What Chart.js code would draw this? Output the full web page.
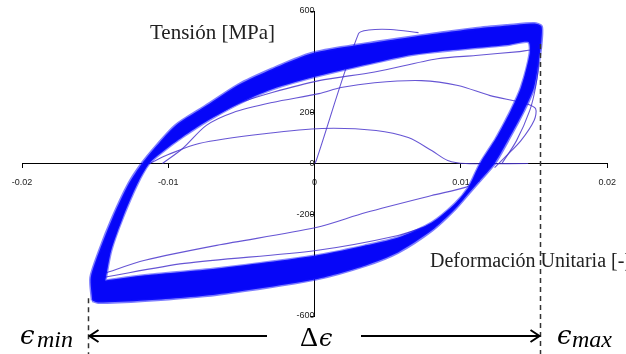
<!DOCTYPE html>
<html>
<head>
<meta charset="utf-8">
<script src="https://cdn.jsdelivr.net/npm/chart.js@4.4.1/dist/chart.umd.min.js"></script>
<style>
  html, body { margin: 0; padding: 0; background: #ffffff; }
  #wrap { width: 626px; height: 354px; position: relative; }
</style>
</head>
<body>
<div id="wrap"><canvas id="c" width="626" height="354"></canvas></div>
<script>
// ---- Data (strain [-], stress [MPa]) ----
// Outer edge of the dense band of stabilised cycles
const outerStrain = [-0.0152,-0.0153,-0.0147,-0.0138,-0.0127,-0.0118,-0.0108,-0.0095,-0.0074,-0.0052,-0.0029,-0.0004,0.0018,0.0064,0.0110,0.0132,0.0150,0.0155,0.0155,0.0154,0.0150,0.0143,0.0133,0.0123,0.0113,0.0107,0.0095,0.0080,0.0057,0.0035,0.0001,-0.0067,-0.0116,-0.0148,-0.0152];
const outerStress = [-539,-448,-342,-212,-79,0,70,150,228,310,372,430,456,496,531,543,551,540,484,433,299,208,100,0,-67,-106,-185,-264,-350,-401,-455,-515,-539,-547,-539];
// Inner edge of the dense band
const innerStrain = [-0.0143,-0.0139,-0.0131,-0.0121,-0.0113,-0.0103,-0.0090,-0.0074,-0.0052,-0.0029,0.0003,0.0064,0.0084,0.0132,0.0146,0.0147,0.0141,0.0134,0.0124,0.0113,0.0105,0.0096,0.0080,0.0057,0.0035,0.0001,-0.0067,-0.0116,-0.0143];
const innerStress = [-460,-342,-212,-79,0,50,105,165,235,292,345,425,440,466,478,433,299,208,100,0,-94,-157,-232,-291,-322,-362,-413,-440,-460];
// First cycles (thin traces)
const initStrain = [0.0000,0.0001,0.0030,0.0037,0.0052,0.0071];
const initStress = [0,10,511,525,527,515];
const lowStrain = [-0.0113,-0.0100,-0.0079,-0.0033,0.0005,0.0042,0.0064,0.0080,0.0091,0.0103,0.0146];
const lowStress = [0,35,79,118,138,130,102,51,12,0,0];
const midStrain = [-0.0104,-0.0090,-0.0074,-0.0056,-0.0029,0.0003,0.0018,0.0041,0.0073,0.0098,0.0120,0.0144,0.0151,0.0150,0.0141,0.0130,0.0123];
const midStress = [0,60,150,200,240,275,299,318,326,307,267,236,216,169,90,24,-16];
const highStrain = [-0.0095,-0.0074,-0.0052,-0.0029,0.0003,0.0041,0.0084,0.0110,0.0140,0.0150,0.0153,0.0151,0.0147,0.0138,0.0128];
const highStress = [100,170,236,279,326,360,412,425,440,445,400,300,208,90,0];
const comp1Strain = [-0.0144,-0.0116,-0.0067,0.0001,0.0035,0.0080,0.0103,0.0113];
const comp1Stress = [-433,-381,-322,-252,-193,-126,-94,-67];
const comp2Strain = [-0.0144,-0.0089,0.0001,0.0057,0.0080];
const comp2Stress = [-448,-393,-342,-283,-240];
// Axes
const xTickValues = [-0.02,-0.01,0,0.01,0.02];
const xTickLabels = ['-0.02','-0.01','0','0.01','0.02'];
const yTickValues = [-600,-400,-200,0,200,400,600];
const yTickLabels = ['-600','-400','-200','0','200','400','600'];
const strainMin = -0.0155, strainMax = 0.0154;

function pts(xs, ys){ return xs.map((x,i)=>({x:x, y:ys[i]})); }

const bandColor = 'rgb(6,6,248)';
const thinColor = 'rgba(75,55,205,0.85)';

function thin(xs, ys){
  return { data: pts(xs, ys), showLine: true, borderColor: thinColor, borderWidth: 1.1,
           pointRadius: 0, tension: 0.3, fill: false };
}

const datasets = [
  { data: pts(outerStrain, outerStress), showLine: true, borderColor: 'rgba(20,20,255,0.55)', borderWidth: 3, pointRadius: 0, tension: 0.25, fill: false },
  { data: pts(innerStrain, innerStress), showLine: true, borderColor: 'rgba(20,20,255,0.5)', borderWidth: 2.5, pointRadius: 0, tension: 0.25, fill: false },
  thin(initStrain, initStress),
  thin(lowStrain, lowStress),
  thin(midStrain, midStress),
  thin(highStrain, highStress),
  thin(comp1Strain, comp1Stress),
  thin(comp2Strain, comp2Stress)
];

const bandFill = {
  id: 'bandFill',
  beforeDatasetDraw(chart, args) {
    if (args.index !== 1) return;
    const ctx = chart.ctx;
    const a = chart.getDatasetMeta(0).dataset;
    const d = chart.getDatasetMeta(1).dataset;
    ctx.save();
    ctx.beginPath();
    [a, d].forEach(el => {
      if (typeof el.updateControlPoints === 'function') el.updateControlPoints(chart.chartArea, 'x');
      if (typeof el.path === 'function') {
        el.path(ctx);
      } else {
        el.points.forEach((p, i) => i ? ctx.lineTo(p.x, p.y) : ctx.moveTo(p.x, p.y));
      }
      ctx.closePath();
    });
    ctx.fillStyle = bandColor;
    ctx.fill('evenodd');
    ctx.restore();
  }
};

const annotations = {
  id: 'annotations',
  afterDraw(chart) {
    const ctx = chart.ctx;
    const xs = chart.scales.x, ys = chart.scales.y;
    const xMinPx = Math.round(xs.getPixelForValue(strainMin)) + 0.5;
    const xMaxPx = Math.round(xs.getPixelForValue(strainMax)) + 0.5;
    ctx.save();
    // dashed limits
    ctx.strokeStyle = '#333';
    ctx.lineWidth = 1.5;
    ctx.setLineDash([5, 4]);
    ctx.beginPath();
    ctx.moveTo(xMaxPx, ys.getPixelForValue(470)); ctx.lineTo(xMaxPx, 354);
    ctx.moveTo(xMinPx, ys.getPixelForValue(-530)); ctx.lineTo(xMinPx, 354);
    ctx.stroke();
    ctx.setLineDash([]);
    // arrows
    const ay = 336;
    ctx.strokeStyle = '#000';
    ctx.lineWidth = 2;
    ctx.beginPath();
    ctx.moveTo(267, ay); ctx.lineTo(xMinPx + 1, ay);
    ctx.moveTo(xMinPx + 10, ay - 6); ctx.lineTo(xMinPx + 1, ay); ctx.lineTo(xMinPx + 10, ay + 6);
    ctx.moveTo(361, ay); ctx.lineTo(xMaxPx - 1, ay);
    ctx.moveTo(xMaxPx - 10, ay - 6); ctx.lineTo(xMaxPx - 1, ay); ctx.lineTo(xMaxPx - 10, ay + 6);
    ctx.stroke();
    // texts
    ctx.fillStyle = '#222';
    ctx.textBaseline = 'alphabetic';
    ctx.textAlign = 'left';
    ctx.font = '21px "Liberation Serif"';
    ctx.fillText('Tensión [MPa]', 150, 39);
    ctx.font = '20px "Liberation Serif"';
    ctx.fillText('Deformación Unitaria [-]', 430, 267);
    ctx.fillStyle = '#000';
    ctx.font = 'italic 26px "DejaVu Serif"';
    ctx.fillText('\u03F5', 20, 344);
    ctx.fillText('\u03F5', 557, 344);
    ctx.font = 'italic 24px "Liberation Serif"';
    ctx.fillText('min', 37, 347);
    ctx.fillText('max', 572, 347);
    ctx.font = '28px "Liberation Serif"';
    ctx.fillText('\u0394', 300, 346);
    ctx.font = 'italic 24px "DejaVu Serif"';
    ctx.fillText('\u03F5', 319, 346);
    ctx.restore();
  }
};

new Chart(document.getElementById('c'), {
  type: 'scatter',
  data: { datasets },
  options: {
    responsive: false,
    animation: false,
    devicePixelRatio: 1,
    layout: { padding: { left: 22, right: 16, top: 11, bottom: 38 } },
    plugins: { legend: { display: false }, tooltip: { enabled: false } },
    scales: {
      x: {
        type: 'linear', min: -0.02, max: 0.02,
        position: { y: 0 },
        afterBuildTicks: (s) => { s.ticks = xTickValues.map(v => ({ value: v })); },
        ticks: {
          callback: (v) => xTickLabels[xTickValues.indexOf(v)] ?? '',
          font: { family: 'Liberation Sans', size: 9 }, color: '#222', padding: 10, maxRotation: 0, autoSkip: false
        },
        grid: { drawOnChartArea: false, drawTicks: true, tickLength: 4, color: '#000' },
        border: { display: true, color: '#000', width: 1 }
      },
      y: {
        type: 'linear', min: -600, max: 600,
        position: { x: 0 },
        afterBuildTicks: (s) => { s.ticks = yTickValues.map(v => ({ value: v })); },
        ticks: {
          callback: (v) => yTickLabels[yTickValues.indexOf(v)] ?? '',
          font: { family: 'Liberation Sans', size: 9 }, color: '#222', padding: 3, autoSkip: false
        },
        grid: { drawOnChartArea: false, drawTicks: true, tickLength: 4, color: '#000' },
        border: { display: true, color: '#000', width: 1 }
      }
    }
  },
  plugins: [bandFill, annotations]
});
</script>
</body>
</html>
